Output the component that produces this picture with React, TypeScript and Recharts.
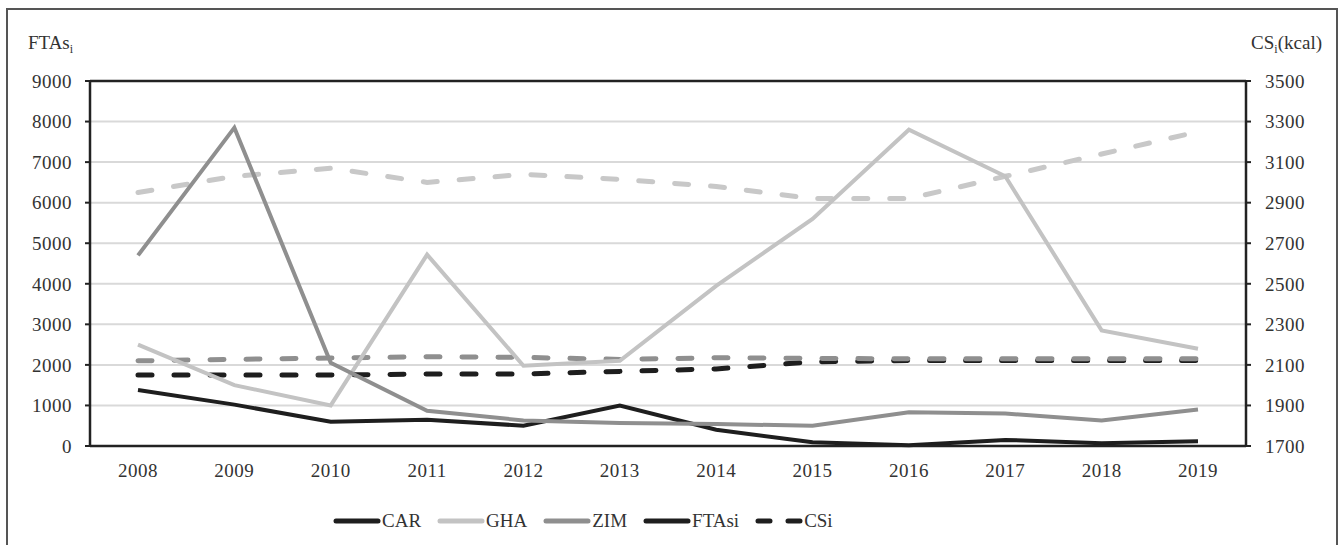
import React from 'react';
import { LineChart, Line, XAxis, YAxis, CartesianGrid, Legend, ReferenceLine } from 'recharts';

const years = ['2008', '2009', '2010', '2011', '2012', '2013', '2014', '2015', '2016', '2017', '2018', '2019'];

// FTAs_i (left axis)
const ftasCAR = [1380, 1020, 600, 650, 500, 1000, 400, 90, 20, 150, 70, 120];
const ftasGHA = [2500, 1500, 1000, 4720, 1980, 2100, 3950, 5600, 7800, 6650, 2850, 2400];
const ftasZIM = [4700, 7850, 2050, 870, 630, 570, 540, 500, 830, 800, 630, 900];

// CS_i in kcal (right axis)
const csCAR = [2050, 2050, 2050, 2055, 2055, 2068, 2080, 2115, 2122, 2122, 2122, 2122];
const csGHA = [2950, 3030, 3070, 3000, 3040, 3015, 2980, 2920, 2920, 3030, 3140, 3250];
const csZIM = [2120, 2127, 2134, 2140, 2137, 2127, 2135, 2132, 2130, 2130, 2130, 2130];

const leftTicks = [0, 1000, 2000, 3000, 4000, 5000, 6000, 7000, 8000, 9000];
const rightTicks = [1700, 1900, 2100, 2300, 2500, 2700, 2900, 3100, 3300, 3500];

const legendNames = ['CAR', 'GHA', 'ZIM', 'FTAsi', 'CSi'];

const BLACK = '#1e1e1e';
const LIGHT = '#c3c3c3';
const MID = '#8f8f8f';
const FONT = '"Liberation Serif", "Times New Roman", serif';

const data = years.map((year, i) => ({
  year,
  CAR: ftasCAR[i],
  GHA: ftasGHA[i],
  ZIM: ftasZIM[i],
  csCAR: csCAR[i],
  csGHA: csGHA[i],
  csZIM: csZIM[i],
}));

const legendStyles = [
  { color: BLACK, dashed: false },
  { color: LIGHT, dashed: false },
  { color: MID, dashed: false },
  { color: BLACK, dashed: false },
  { color: BLACK, dashed: true },
];

// legend sits left of centre in the original
const renderLegend = () => (
  <div style={{ height: 30, display: 'flex', justifyContent: 'flex-start', alignItems: 'center', paddingLeft: 333, fontFamily: FONT, fontSize: 19, color: '#333' }}>
    {legendNames.map((name, i) => (
      <div key={name} style={{ display: 'flex', alignItems: 'center', marginRight: i < legendNames.length - 1 ? 16 : 0 }}>
        <svg width={48} height={10}>
          <line
            x1={3}
            x2={45}
            y1={5}
            y2={5}
            stroke={legendStyles[i].color}
            strokeWidth={5}
            strokeLinecap="round"
            strokeDasharray={legendStyles[i].dashed ? '12 18' : undefined}
          />
        </svg>
        <span style={{ marginLeft: 1 }}>{name}</span>
      </div>
    ))}
  </div>
);

const tickStyle = { fontFamily: FONT, fontSize: 19, fill: '#333', letterSpacing: 0.5 };

export default function App() {
  return (
    <div style={{ position: 'absolute', left: 0, top: 0, width: 1340, height: 545, overflow: 'hidden', background: '#fff' }}>
      <div style={{ position: 'absolute', left: 6, top: 8, width: 1328, height: 600, border: '2px solid #555' }} />
      <div style={{ position: 'absolute', left: 0, top: 0 }}>
        <LineChart width={1340} height={545} data={data} margin={{ top: 81, right: 0, bottom: 9, left: 0 }}>
          <CartesianGrid vertical={false} stroke="#d9d9d9" strokeWidth={2} yAxisId="left" />
          <XAxis
            dataKey="year"
            padding={{ left: 48, right: 48 }}
            height={60}
            tickSize={0}
            tickMargin={18}
            axisLine={{ stroke: '#222', strokeWidth: 2.5 }}
            tick={tickStyle}
          />
          <YAxis
            yAxisId="left"
            width={90}
            domain={[0, 9000]}
            ticks={leftTicks}
            tickSize={5}
            tickMargin={13}
            axisLine={{ stroke: '#222', strokeWidth: 2.5 }}
            tickLine={{ stroke: '#222', strokeWidth: 2 }}
            tick={tickStyle}
            label={{
              content: () => (
                <text x={28} y={49} fontFamily={FONT} fontSize={19} fill="#333">
                  FTAs<tspan fontSize={12} dy={4}>i</tspan>
                </text>
              ),
            }}
          />
          <YAxis
            yAxisId="right"
            orientation="right"
            width={94}
            domain={[1700, 3500]}
            ticks={rightTicks}
            tickSize={5}
            tickMargin={14}
            axisLine={{ stroke: '#222', strokeWidth: 2.5 }}
            tickLine={{ stroke: '#222', strokeWidth: 2 }}
            tick={tickStyle}
            label={{
              content: () => (
                <text x={1322} y={49} textAnchor="end" fontFamily={FONT} fontSize={19} fill="#333">
                  CS<tspan fontSize={12} dy={4}>i</tspan>
                  <tspan dy={-4}>(kcal)</tspan>
                </text>
              ),
            }}
          />
          <ReferenceLine yAxisId="left" y={9000} stroke="#222" strokeWidth={2.5} />
          <Legend verticalAlign="bottom" content={renderLegend} />
          <Line yAxisId="right" dataKey="csGHA" stroke="#c8c8c8" strokeWidth={5} strokeDasharray="14 22" strokeLinecap="round" dot={false} isAnimationActive={false} legendType="none" />
          <Line yAxisId="right" dataKey="csCAR" stroke={BLACK} strokeWidth={5} strokeDasharray="14 22" strokeLinecap="round" dot={false} isAnimationActive={false} legendType="none" />
          <Line yAxisId="right" dataKey="csZIM" stroke={MID} strokeWidth={5} strokeDasharray="14 22" strokeLinecap="round" dot={false} isAnimationActive={false} legendType="none" />
          <Line yAxisId="left" dataKey="GHA" stroke={LIGHT} strokeWidth={4} dot={false} isAnimationActive={false} />
          <Line yAxisId="left" dataKey="CAR" stroke={BLACK} strokeWidth={4} dot={false} isAnimationActive={false} />
          <Line yAxisId="left" dataKey="ZIM" stroke={MID} strokeWidth={4} dot={false} isAnimationActive={false} />
        </LineChart>
      </div>
    </div>
  );
}
